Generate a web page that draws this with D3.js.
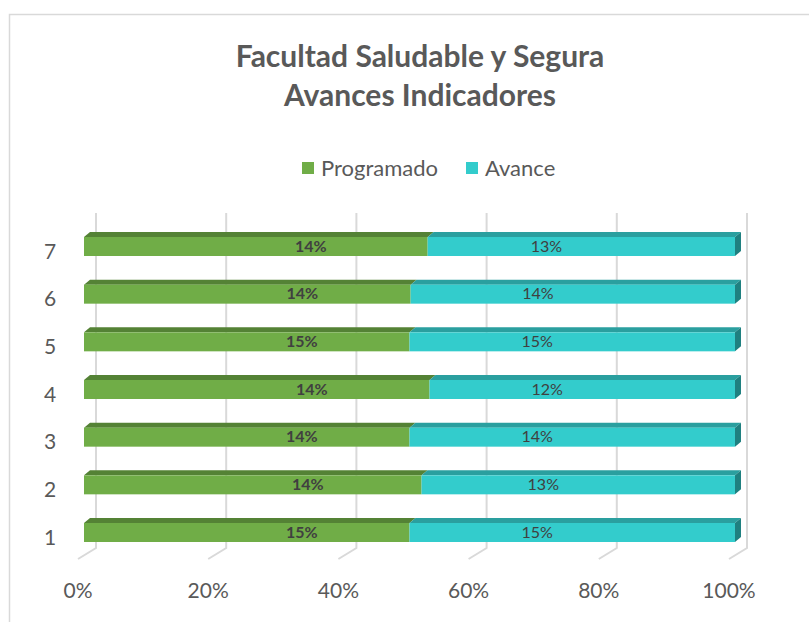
<!DOCTYPE html>
<html>
<head>
<meta charset="utf-8">
<script src="https://cdn.jsdelivr.net/npm/d3@7"></script>
<style>
  body { margin: 0; background: #fff; }
  text { font-family: Lato, "Open Sans", sans-serif; }
</style>
</head>
<body>
<svg id="chart"></svg>
<script>
var categories = ["1", "2", "3", "4", "5", "6", "7"];
var programado = [14.8, 14.0, 14.3, 13.8, 14.8, 14.3, 14.2];
var avance     = [14.8, 13.0, 14.3, 12.2, 14.8, 14.2, 12.7];
var ticks = [0, 0.2, 0.4, 0.6, 0.8, 1];
var seriesNames = ["Programado", "Avance"];

var w = 809, h = 622;
var svg = d3.select("#chart").attr("width", w).attr("height", h);

// chart border
svg.append("rect")
  .attr("x", 9.5).attr("y", 14.5)
  .attr("width", 900).attr("height", 700)
  .attr("fill", "none").attr("stroke", "#d9d9d9").attr("stroke-width", 1.5);

// title
svg.append("text").attr("x", 420).attr("y", 67)
  .attr("text-anchor", "middle").attr("font-size", 30).attr("font-weight", "bold")
  .attr("fill", "#595959").text("Facultad Saludable y Segura");
svg.append("text").attr("x", 420).attr("y", 106)
  .attr("text-anchor", "middle").attr("font-size", 30).attr("font-weight", "bold")
  .attr("fill", "#595959").text("Avances Indicadores");

var front = { "Programado": "#70ad47", "Avance": "#33cccc" };
var topc  = { "Programado": "#548235", "Avance": "#2a9f9f" };
var side  = { "Programado": "#4a7530", "Avance": "#1f8080" };

// legend
var leg = svg.append("g").selectAll("g")
  .data(seriesNames).enter().append("g")
  .attr("transform", function(d, i) { return "translate(" + (i == 0 ? 302 : 466) + ",0)"; });
leg.append("rect").attr("x", 0).attr("y", 162).attr("width", 12).attr("height", 12)
  .attr("fill", function(d) { return front[d]; });
leg.append("text").attr("x", 19).attr("y", 176).attr("font-size", 22)
  .attr("fill", "#595959").text(function(d) { return d; });

// scales
var x = d3.scaleLinear().domain([0, 1]).range([84, 735]);
var y = d3.scalePoint().domain(categories.slice().reverse()).range([237, 523]);
var barH = 19, dx = 6, dy = 5;
var backDx = 12, wallTop = 213, floorY = 548;

// gridlines (back wall + floor)
var grid = svg.append("g");
grid.selectAll("path").data(ticks).enter().append("path")
  .attr("d", function(t) {
    var bx = x(t) + backDx;
    return "M" + bx + "," + wallTop + "L" + bx + "," + floorY + "L" + (bx - 18) + "," + (floorY + 11);
  })
  .attr("fill", "none").attr("stroke", "#d9d9d9").attr("stroke-width", 2);

grid.selectAll("text").data(ticks).enter().append("text")
  .attr("x", function(t) { return x(t) + backDx - 18; })
  .attr("y", 598)
  .attr("text-anchor", "middle").attr("font-size", 21).attr("fill", "#595959")
  .text(d3.format(".0%"));

// category labels
svg.append("g").selectAll("text").data(categories).enter().append("text")
  .attr("x", 50).attr("y", function(d) { return y(d) + barH / 2 + 12; })
  .attr("text-anchor", "middle").attr("font-size", 21).attr("fill", "#595959")
  .text(function(d) { return d; });

// stacked 100% rows
var rows = categories.map(function(c, i) {
  var tot = programado[i] + avance[i];
  var p = programado[i] / tot;
  return [
    { cat: c, key: "Programado", v: programado[i], x0: 0, x1: p },
    { cat: c, key: "Avance", v: avance[i], x0: p, x1: 1 }
  ];
});
var segs = [].concat.apply([], rows);

var bars = svg.append("g");
var seg = bars.selectAll("g").data(segs).enter().append("g");

seg.append("path")
  .attr("d", function(d) {
    var a = x(d.x0), b = x(d.x1), t = y(d.cat);
    return "M" + a + "," + t + "L" + (a + dx) + "," + (t - dy) + "L" + (b + dx) + "," + (t - dy) + "L" + b + "," + t + "Z";
  })
  .attr("fill", function(d) { return topc[d.key]; });

seg.append("rect")
  .attr("x", function(d) { return x(d.x0); })
  .attr("y", function(d) { return y(d.cat); })
  .attr("width", function(d) { return x(d.x1) - x(d.x0); })
  .attr("height", barH)
  .attr("fill", function(d) { return front[d.key]; });

seg.filter(function(d) { return d.x1 == 1; }).append("path")
  .attr("d", function(d) {
    var b = x(d.x1), t = y(d.cat);
    return "M" + b + "," + t + "L" + (b + dx) + "," + (t - dy) + "L" + (b + dx) + "," + (t - dy + barH) + "L" + b + "," + (t + barH) + "Z";
  })
  .attr("fill", function(d) { return side[d.key]; });

// data labels
seg.append("text")
  .attr("x", function(d) {
    var c = (x(d.x0) + x(d.x1)) / 2;
    return d.key == "Programado" ? c + 55 : c - 35;
  })
  .attr("y", function(d) { return y(d.cat) + barH / 2 + 5; })
  .attr("text-anchor", "middle").attr("font-size", 16)
  .attr("font-weight", function(d) { return d.key == "Programado" ? "bold" : "normal"; })
  .attr("fill", "#404040")
  .text(function(d) { return d3.format(".0%")(d.v / 100); });
</script>
</body>
</html>
